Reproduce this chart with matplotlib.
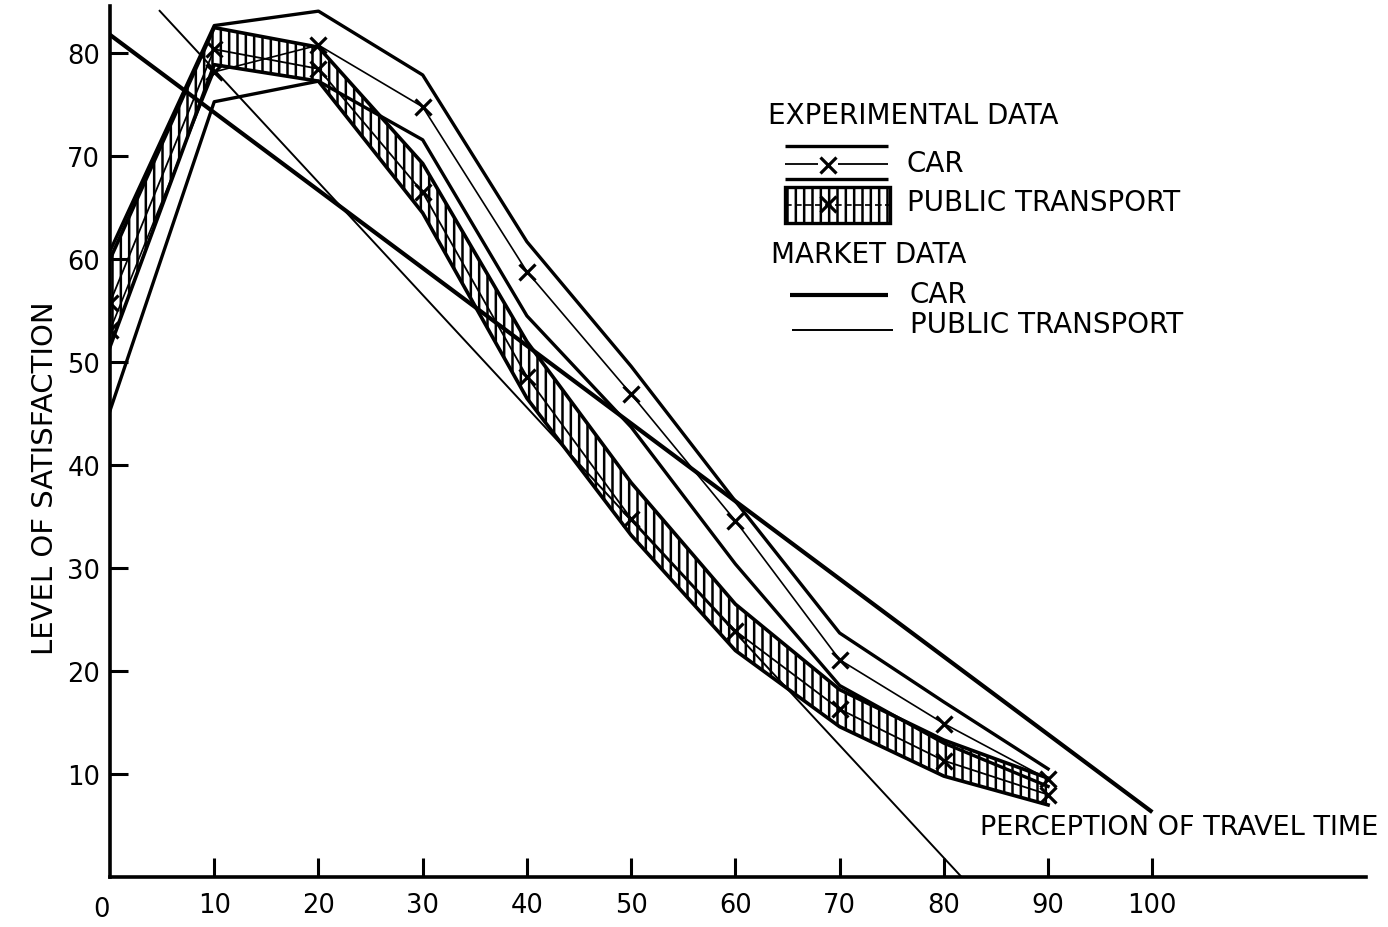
import matplotlib
matplotlib.use("Agg")
import matplotlib.pyplot as plt
from matplotlib.patches import Rectangle
from matplotlib.lines import Line2D
from matplotlib.transforms import Affine2D

plt.rcParams['font.family'] = ['DejaVu Sans']
plt.rcParams['hatch.linewidth'] = 1.8

# perception of travel time (minutes)
travel_time = [0, 10, 20, 30, 40, 50, 60, 70, 80, 90]

# experimental data, car: mean and band limits
car_exp_mid = [53.1, 78.2, 80.8, 74.8, 58.8, 46.9, 34.6, 21.1, 14.9, 9.5]
car_exp_upper = [60.8, 82.7, 84.1, 77.9, 61.7, 49.6, 36.5, 23.7, 17.0, 10.5]
car_exp_lower = [45.3, 75.3, 77.3, 71.6, 54.5, 43.7, 30.4, 18.6, 13.0, 8.8]

# experimental data, public transport: mean and band limits
pt_exp_mid = [55.8, 80.4, 78.5, 66.5, 48.6, 34.8, 23.9, 16.3, 11.3, 8.0]
pt_exp_upper = [60.0, 82.5, 80.6, 69.3, 52.0, 38.3, 26.5, 18.2, 13.3, 9.6]
pt_exp_lower = [51.5, 78.9, 77.3, 64.5, 46.5, 33.2, 22.0, 14.6, 9.8, 7.0]

# market data (straight-line fits)
market_car_x = [0, 100]
market_car_y = [81.8, 6.3]
market_pt_x = [4.7, 81.7]
market_pt_y = [84.2, 0.0]

x_ticks = [10, 20, 30, 40, 50, 60, 70, 80, 90, 100]
y_ticks = [10, 20, 30, 40, 50, 60, 70, 80]

W, H = 1388, 928
fig = plt.figure(figsize=(W / 100, H / 100), dpi=100)
ax = fig.add_axes([110 / W, 50 / H, 1256 / W, 871 / H])
ax.set_xlim(0, 120.5)
ax.set_ylim(0, 84.6)

for side in ("top", "right"):
    ax.spines[side].set_visible(False)
for side in ("left", "bottom"):
    ax.spines[side].set_linewidth(2.6)

ax.set_xticks(x_ticks)
ax.set_yticks(y_ticks)
ax.tick_params(axis='x', direction='in', length=14, width=2.2, pad=11, labelsize=18.5)
ax.tick_params(axis='y', direction='in', length=13, width=2.2, pad=7, labelsize=18.5)
ax.annotate("0", xy=(0, 0), xytext=(-6, -23), textcoords='offset points',
            ha='center', va='center', fontsize=18.5, annotation_clip=False)

# public transport band: hatched, thick outline, mean line with crosses
ax.fill_between(travel_time, pt_exp_lower, pt_exp_upper, facecolor='none',
                edgecolor='black', hatch='||', linewidth=0, zorder=2)
ax.plot(travel_time, pt_exp_upper, color='black', lw=2.6, zorder=3)
ax.plot(travel_time, pt_exp_lower, color='black', lw=2.6, zorder=3)
ax.plot(travel_time, pt_exp_mid, color='black', lw=1.3, marker='x',
        ms=12, mew=2.3, zorder=4)

# car band: open, thick outline, thin mean line with crosses
ax.plot(travel_time, car_exp_upper, color='black', lw=2.4, zorder=3)
ax.plot(travel_time, car_exp_lower, color='black', lw=2.4, zorder=3)
ax.plot(travel_time, car_exp_mid, color='black', lw=1.2, marker='x',
        ms=12, mew=2.3, zorder=4)

# market lines
ax.plot(market_car_x, market_car_y, color='black', lw=3.0, zorder=3,
        solid_capstyle='butt')
ax.plot(market_pt_x, market_pt_y, color='black', lw=1.4, zorder=3,
        solid_capstyle='butt')

# axis titles
fig.text(45 / W, 1 - 478 / H, "LEVEL OF SATISFACTION", rotation=90,
         ha='center', va='center', fontsize=21)
fig.text(980 / W, 1 - 828 / H, "PERCEPTION OF TRAVEL TIME",
         ha='left', va='center', fontsize=19.5)

# key, laid out in figure pixels measured from the top-left corner
px = Affine2D().scale(1 / W, -1 / H).translate(0, 1) + fig.transFigure


def key_line(x0, x1, y, lw, **kw):
    fig.add_artist(Line2D([x0, x1], [y, y], color='black', lw=lw,
                          transform=px, solid_capstyle='butt', **kw))


def key_cross(x, y):
    fig.add_artist(Line2D([x], [y], color='black', marker='x', ms=12,
                          mew=2.3, transform=px))


def key_text(x, y, s):
    fig.text(x / W, 1 - y / H, s, ha='left', va='center', fontsize=20)


key_text(768, 116, "EXPERIMENTAL DATA")
key_line(785, 888, 147, 2.4)
key_line(785, 818, 165, 1.3)
key_line(838, 888, 165, 1.3)
key_cross(828, 166)
key_line(785, 888, 180, 2.4)
key_text(907, 164, "CAR")

fig.add_artist(Rectangle((785, 188), 105, 36, facecolor='none', edgecolor='black',
                         hatch='||', lw=2.4, transform=px))
key_line(785, 890, 206, 1.2, linestyle=(0, (4, 2)))
key_cross(828, 205)
key_text(907, 203, "PUBLIC TRANSPORT")

key_text(771, 255, "MARKET DATA")
key_line(790, 888, 296, 3.0)
key_text(910, 295, "CAR")
key_line(792, 893, 331, 1.4)
key_text(910, 325, "PUBLIC TRANSPORT")

fig.savefig("out.png", dpi=100)
